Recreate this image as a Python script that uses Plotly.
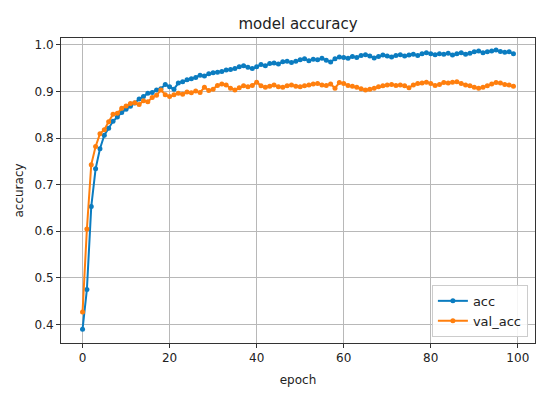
import plotly.graph_objects as go

epochs = list(range(100))

acc = [0.390, 0.475, 0.653, 0.734, 0.777, 0.806, 0.821, 0.836, 0.845, 0.855,
       0.862, 0.868, 0.875, 0.884, 0.889, 0.896, 0.898, 0.903, 0.906, 0.915,
       0.910, 0.905, 0.918, 0.921, 0.925, 0.927, 0.930, 0.935, 0.933, 0.938,
       0.940, 0.941, 0.943, 0.946, 0.947, 0.949, 0.953, 0.955, 0.952, 0.949,
       0.953, 0.958, 0.955, 0.960, 0.961, 0.959, 0.964, 0.965, 0.962, 0.965,
       0.968, 0.970, 0.966, 0.969, 0.968, 0.971, 0.967, 0.963, 0.970, 0.974,
       0.973, 0.971, 0.975, 0.973, 0.977, 0.979, 0.976, 0.972, 0.975, 0.978,
       0.976, 0.974, 0.977, 0.979, 0.976, 0.978, 0.980, 0.977, 0.981, 0.983,
       0.981, 0.979, 0.981, 0.980, 0.982, 0.978, 0.981, 0.983, 0.980, 0.982,
       0.985, 0.987, 0.983, 0.985, 0.987, 0.989, 0.986, 0.984, 0.985, 0.981]

val_acc = [0.427, 0.605, 0.743, 0.782, 0.809, 0.818, 0.835, 0.851, 0.853, 0.864,
           0.869, 0.874, 0.876, 0.872, 0.880, 0.878, 0.887, 0.892, 0.903, 0.893,
           0.889, 0.893, 0.896, 0.894, 0.899, 0.897, 0.901, 0.898, 0.909, 0.902,
           0.905, 0.913, 0.916, 0.914, 0.907, 0.903, 0.908, 0.912, 0.910, 0.913,
           0.920, 0.912, 0.909, 0.911, 0.914, 0.910, 0.909, 0.912, 0.914, 0.911,
           0.910, 0.912, 0.914, 0.916, 0.917, 0.914, 0.913, 0.916, 0.907, 0.919,
           0.917, 0.913, 0.911, 0.909, 0.906, 0.903, 0.905, 0.907, 0.910, 0.912,
           0.914, 0.915, 0.913, 0.914, 0.912, 0.908, 0.914, 0.917, 0.918, 0.920,
           0.917, 0.913, 0.915, 0.919, 0.918, 0.920, 0.921, 0.917, 0.914, 0.912,
           0.909, 0.907, 0.909, 0.912, 0.916, 0.919, 0.918, 0.915, 0.914, 0.911]

x_ticks = [0, 20, 40, 60, 80, 100]
y_ticks = [0.4, 0.5, 0.6, 0.7, 0.8, 0.9, 1.0]

font_family = "DejaVu Sans"
text_color = "#222222"

fig = go.Figure()
fig.add_trace(go.Scatter(x=epochs, y=acc, mode="lines+markers", name="acc",
                         line=dict(color="#0b7cc0", width=2),
                         marker=dict(color="#0b7cc0", size=5)))
fig.add_trace(go.Scatter(x=epochs, y=val_acc, mode="lines+markers", name="val_acc",
                         line=dict(color="#ff7f0e", width=2),
                         marker=dict(color="#ff7f0e", size=5)))

axis_common = dict(showgrid=True, gridcolor="#b8b8b8", gridwidth=1,
                   showline=True, linecolor="#333333", linewidth=1, mirror=True,
                   ticks="outside", ticklen=4, tickcolor="#333333",
                   zeroline=False, automargin=False,
                   tickfont=dict(family=font_family, size=12, color=text_color))

fig.update_layout(
    width=550, height=394,
    margin=dict(l=61, r=15, t=38, b=51, autoexpand=False),
    paper_bgcolor="white", plot_bgcolor="white",
    title=dict(text="model accuracy", x=(61 + 535) / 2 / 550, xanchor="center",
               y=1 - 24 / 394, yanchor="middle",
               font=dict(family=font_family, size=15, color=text_color)),
    xaxis=dict(title=dict(text="epoch", font=dict(family=font_family, size=12, color=text_color), standoff=11),
               range=[-4.95, 103.95], tickvals=x_ticks, ticktext=[str(v) for v in x_ticks],
               **axis_common),
    yaxis=dict(title=dict(text="accuracy", font=dict(family=font_family, size=12, color=text_color), standoff=8),
               range=[0.3603, 1.0147], tickvals=y_ticks, ticktext=["%.1f" % v for v in y_ticks],
               **axis_common),
    legend=dict(x=0.985, xanchor="right", y=0.02, yanchor="bottom",
                bgcolor="rgba(255,255,255,0.85)", bordercolor="#cccccc", borderwidth=1,
                font=dict(family=font_family, size=13, color=text_color)),
    showlegend=True,
)

fig.write_html("out.html", config={"displayModeBar": False},
               post_script="document.body.style.margin='0px';document.body.style.overflow='hidden';")
